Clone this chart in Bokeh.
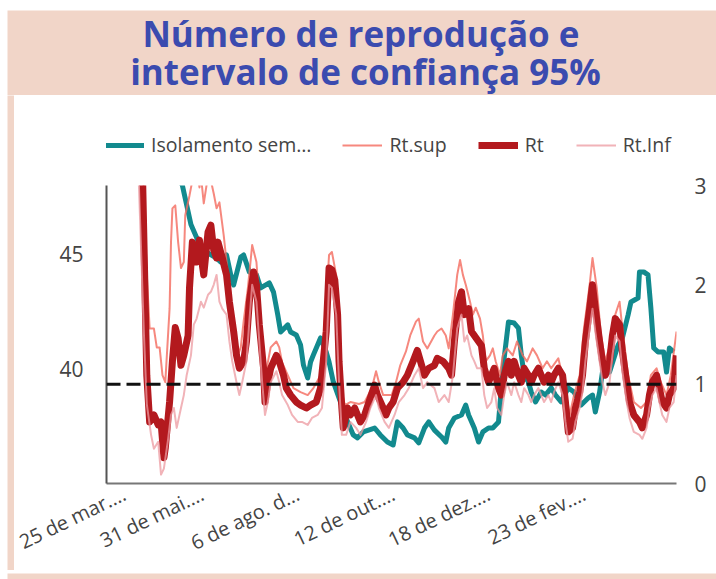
from bokeh.plotting import figure
from bokeh.models import Range1d, LinearAxis, FixedTicker, Span, Legend
from bokeh.layouts import column, row
from bokeh.embed import file_html
from bokeh.resources import INLINE
from bokeh.core.properties import value

# ---------------- data ----------------
TITULO_1 = "Número  de reprodução e"
TITULO_2 = "intervalo de confiança 95%"

# x axis: days since 25 Mar 2020
tick_dias = [0, 67, 134, 201, 268, 335]
tick_rotulos = ["25 de mar.…", "31 de mai.…", "6 de ago. d…", "12 de out.…", "18 de dez.…", "23 de fev.…"]
iso_ticks = [40, 45]
rt_ticks = [0, 1, 2, 3]
limiar_rt = 1

serie_nomes = ["Isolamento sem…", "Rt.sup", "Rt", "Rt.Inf"]

iso_dia = [0, 25, 45, 53, 59, 66, 71, 77, 80, 84, 87, 89, 94, 96, 100, 105, 108, 114, 117, 120,
           122, 127, 129, 133, 136, 138, 141, 143, 145, 150, 154, 156, 159, 164, 169, 173, 176, 180, 188, 192,
           197, 201, 204, 208, 211, 216, 219, 223, 226, 230, 235, 238, 240, 244, 249, 252, 254, 258, 261, 264,
           268, 271, 275, 277, 279, 282, 286, 289, 291, 293, 296, 298, 301, 305, 308, 312, 315, 319, 324, 328,
           333, 338, 341, 343, 346, 349, 353, 359, 362, 366, 368, 373, 374, 377, 380, 382, 384, 387, 391, 393,
           395, 398]
iso = [56.0, 52.0, 49.0, 48.0, 46.3, 45.3, 45.05, 44.83, 44.66, 44.97, 44.1, 43.66, 44.88, 44.97, 44.23, 44.1, 43.53, 43.75, 43.35, 42.35,
       41.61, 41.92, 41.61, 41.48, 41.04, 40.17, 39.6, 40.3, 40.61, 41.35, 40.74, 40.3, 39.43, 38.56, 37.69, 37.12, 36.99, 37.25, 37.42, 37.12,
       36.81, 36.68, 37.69, 37.42, 37.12, 36.99, 36.77, 37.42, 37.69, 37.33, 37.03, 36.81, 37.42, 37.86, 37.99, 38.42, 37.99, 37.42, 36.81, 37.25,
       37.42, 37.42, 37.68, 39.17, 40.48, 42.05, 42.0, 41.78, 40.61, 39.73, 39.43, 38.99, 38.56, 38.99, 38.86, 39.17, 38.86, 38.56, 39.17, 38.99,
       38.42, 38.73, 38.86, 38.12, 38.99, 40.3, 39.86, 41.04, 41.35, 42.35, 42.92, 43.09, 44.23, 44.23, 44.1, 42.66, 40.91, 40.74, 40.74, 39.86,
       40.91, 40.74]

rt_dia = [22, 25, 28, 30, 33, 36, 38, 40, 41, 44, 46, 48, 50, 52, 54, 57, 58, 60, 63, 65,
          66, 68, 71, 73, 75, 77, 78, 81, 84, 86, 89, 91, 93, 96, 98, 100, 103, 105, 107, 110,
          111, 113, 115, 119, 121, 124, 126, 129, 133, 136, 140, 143, 147, 150, 154, 156, 158, 160, 162, 163,
          165, 166, 169, 171, 174, 176, 178, 181, 184, 188, 190, 194, 196, 198, 201, 204, 208, 211, 215, 218,
          221, 223, 226, 230, 232, 236, 240, 242, 244, 247, 249, 251, 254, 256, 258, 261, 263, 265, 268, 270,
          272, 275, 277, 279, 282, 284, 286, 289, 291, 293, 296, 298, 300, 303, 305, 307, 310, 312, 314, 317,
          320, 322, 324, 327, 329, 332, 334, 336, 339, 341, 343, 346, 348, 350, 353, 355, 357, 360, 362, 365,
          367, 370, 374, 376, 379, 381, 383, 386, 388, 390, 393, 395, 398, 400]
rt = [3.6, 3.1, 1.09, 0.62, 0.69, 0.59, 0.62, 0.26, 0.36, 0.82, 1.23, 1.57, 1.46, 1.19, 1.29, 1.49, 1.97, 2.43, 2.23, 2.45,
      2.30, 2.10, 2.53, 2.60, 2.35, 2.27, 2.43, 2.27, 2.10, 1.83, 1.53, 1.29, 1.16, 1.23, 1.43, 1.83, 2.13, 2.00, 1.60, 1.16,
      0.82, 1.02, 1.16, 1.29, 1.23, 1.09, 0.96, 0.89, 0.82, 0.79, 0.76, 0.79, 0.82, 0.96, 1.53, 2.17, 2.15, 2.05, 1.70, 1.23,
      0.76, 0.56, 0.76, 0.69, 0.76, 0.69, 0.62, 0.69, 0.82, 0.99, 0.89, 0.76, 0.69, 0.76, 0.82, 0.96, 1.02, 1.09, 1.23, 1.34,
      1.19, 1.09, 1.16, 1.19, 1.26, 1.23, 1.16, 1.09, 1.43, 1.83, 1.93, 1.70, 1.76, 1.53, 1.49, 1.43, 1.39, 1.16, 1.02, 1.09,
      1.16, 0.96, 0.89, 1.09, 1.23, 1.09, 1.23, 1.09, 1.02, 1.16, 1.09, 1.02, 1.09, 1.16, 1.09, 1.02, 1.09, 1.02, 1.09, 1.16,
      1.09, 0.82, 0.52, 0.56, 0.76, 0.92, 1.09, 1.43, 1.76, 2.00, 1.76, 1.43, 1.23, 1.09, 1.23, 1.49, 1.66, 1.60, 1.33, 1.02,
      0.82, 0.69, 0.62, 0.56, 0.69, 0.89, 1.02, 1.09, 0.96, 0.82, 0.76, 0.89, 0.96, 1.29]

sup_dia = [21, 25, 28, 30, 33, 35, 37, 39, 41, 44, 45, 46, 48, 50, 52, 54, 55, 58, 60, 63,
           65, 66, 68, 71, 73, 75, 77, 79, 82, 85, 87, 89, 92, 94, 96, 99, 102, 105, 107, 109,
           111, 113, 115, 119, 121, 123, 127, 131, 136, 141, 145, 150, 154, 156, 158, 161, 163, 165, 167, 171,
           177, 181, 186, 189, 191, 194, 200, 203, 206, 210, 213, 217, 219, 222, 225, 230, 232, 235, 238, 240,
           243, 246, 248, 250, 252, 255, 257, 259, 262, 264, 266, 269, 271, 273, 276, 278, 281, 285, 288, 292,
           295, 299, 302, 306, 309, 312, 317, 321, 325, 328, 332, 335, 339, 341, 344, 347, 350, 354, 357, 360,
           362, 366, 370, 375, 379, 382, 386, 389, 393, 396, 400]
rt_sup = [4.4, 3.3, 2.1, 1.56, 1.56, 1.37, 1.37, 1.09, 1.02, 1.76, 2.43, 2.77, 2.80, 2.43, 2.17, 2.23, 2.70, 2.90, 3.05, 3.2,
          2.98, 3.1, 2.82, 3.1, 3.05, 2.92, 2.77, 2.83, 2.50, 2.10, 1.70, 1.43, 1.29, 1.37, 1.63, 1.97, 2.40, 2.23, 1.83, 1.43,
          1.02, 1.22, 1.37, 1.43, 1.37, 1.22, 1.09, 0.96, 0.92, 0.89, 0.96, 1.09, 1.83, 2.30, 2.33, 2.10, 1.43, 0.92, 0.79, 0.82,
          0.80, 0.82, 0.96, 1.13, 1.02, 0.89, 0.89, 1.02, 1.19, 1.33, 1.49, 1.63, 1.66, 1.43, 1.36, 1.49, 1.53, 1.56, 1.49, 1.36,
          1.70, 2.10, 2.25, 2.10, 2.0, 1.83, 1.70, 1.77, 1.66, 1.49, 1.23, 1.29, 1.36, 1.23, 1.09, 1.29, 1.36, 1.29, 1.43, 1.29,
          1.23, 1.36, 1.29, 1.16, 1.23, 1.16, 1.26, 1.02, 0.69, 0.89, 1.09, 1.56, 2.00, 2.27, 1.97, 1.49, 1.23, 1.43, 1.70, 1.83,
          1.56, 1.09, 0.82, 0.76, 0.82, 1.09, 1.16, 1.02, 0.89, 1.09, 1.53]

inf_dia = [22, 26, 28, 31, 33, 36, 38, 40, 43, 45, 47, 49, 52, 54, 56, 59, 61, 63, 66, 68,
           71, 73, 75, 77, 79, 81, 84, 86, 88, 91, 93, 95, 98, 100, 102, 105, 107, 109, 111, 113,
           115, 119, 121, 123, 127, 130, 134, 137, 141, 144, 148, 151, 154, 156, 158, 161, 163, 165, 168, 171,
           175, 178, 182, 185, 189, 191, 195, 198, 202, 205, 209, 212, 216, 219, 222, 225, 230, 233, 237, 240,
           243, 246, 249, 251, 253, 256, 258, 260, 263, 265, 267, 270, 272, 274, 277, 279, 281, 284, 286, 289,
           291, 293, 296, 298, 300, 303, 305, 307, 310, 312, 314, 317, 320, 322, 324, 327, 329, 332, 334, 336,
           339, 341, 343, 346, 348, 350, 353, 355, 357, 360, 362, 365, 367, 370, 374, 376, 379, 381, 383, 386,
           388, 390, 393, 395, 398, 400]
rt_inf = [3.2, 1.5, 0.8, 0.49, 0.35, 0.42, 0.09, 0.15, 0.45, 0.69, 0.76, 0.56, 0.76, 0.89, 1.09, 1.29, 1.60, 1.66, 1.83, 1.77,
          1.90, 1.93, 2.0, 2.10, 1.83, 1.76, 1.70, 1.43, 1.23, 1.02, 0.89, 1.02, 1.23, 1.63, 2.0, 1.83, 1.43, 1.02, 0.69, 0.82,
          1.02, 1.13, 1.02, 0.89, 0.79, 0.69, 0.62, 0.62, 0.59, 0.66, 0.69, 0.76, 1.23, 2.0, 1.97, 1.70, 1.02, 0.49, 0.49, 0.62,
          0.56, 0.49, 0.62, 0.76, 0.89, 0.76, 0.62, 0.56, 0.69, 0.82, 0.89, 0.96, 1.09, 1.16, 0.96, 1.02, 0.96, 0.82, 0.89, 0.82,
          1.09, 1.56, 1.70, 1.43, 1.49, 1.29, 1.23, 1.16, 1.16, 0.89, 0.76, 0.82, 0.96, 0.76, 0.69, 0.89, 1.02, 0.89, 1.02, 0.89,
          0.82, 0.96, 0.89, 0.82, 0.89, 0.96, 0.89, 0.82, 0.89, 0.82, 0.92, 1.02, 0.89, 0.62, 0.42, 0.45, 0.62, 0.76, 0.92, 1.23,
          1.56, 1.76, 1.53, 1.23, 1.02, 0.89, 1.02, 1.29, 1.49, 1.43, 1.13, 0.82, 0.66, 0.52, 0.49, 0.45, 0.56, 0.76, 0.89, 0.96,
          0.82, 0.69, 0.62, 0.76, 0.82, 1.09]

assert len(iso_dia) == len(iso)
assert len(rt_dia) == len(rt)
assert len(sup_dia) == len(rt_sup)
assert len(inf_dia) == len(rt_inf)

# ---------------- style ----------------
PEACH = "#F1D5C8"
TITLE_BLUE = "#3B4BAF"
TEAL = "#128A8E"
RT_RED = "#B3191E"
SUP_COL = "#F46A5E"
INF_COL = "#EC9AA0"
LABEL_COL = "#444444"
FONT = "Open Sans"

STYLE_ISO = dict(line_color=TEAL, line_width=5, line_join="round")
STYLE_SUP = dict(line_color=SUP_COL, line_width=2, line_alpha=0.8, line_join="round")
STYLE_RT = dict(line_color=RT_RED, line_width=7, line_join="round")
STYLE_INF = dict(line_color=INF_COL, line_width=2, line_alpha=0.75, line_join="round")


def block(w, h, color):
    f = figure(width=w, height=h, output_backend="svg", toolbar_location=None, title=None,
               min_border=0, x_axis_location=None, y_axis_location=None,
               border_fill_color=color, background_fill_color=color, outline_line_color=None)
    f.grid.visible = False
    return f


# ---------------- title band ----------------
pt = figure(width=709, height=85, x_range=Range1d(0, 709), y_range=Range1d(0, 85),
            output_backend="svg", toolbar_location=None, title=None, min_border=0,
            x_axis_location=None, y_axis_location=None,
            border_fill_color=PEACH, background_fill_color=PEACH, outline_line_color=None)
pt.grid.visible = False
pt.text(x=[358, 358], y=[62, 24], text=[TITULO_1, TITULO_2],
        text_align="center", text_baseline="middle",
        text_font=value(FONT), text_font_style="bold", text_font_size="35px",
        text_color=TITLE_BLUE)

# ---------------- legend strip (series drawn outside its visible x range) ----------------
lf = block(702, 78, "white")
lf.x_range = Range1d(-20, -10)
lf.y_range = Range1d(0, 1)
lf.extra_y_ranges = {"rt": Range1d(0, 3), "iso": Range1d(35, 48)}
l_iso = lf.line(iso_dia, iso, y_range_name="iso", **STYLE_ISO)
l_sup = lf.line(sup_dia, rt_sup, y_range_name="rt", **STYLE_SUP)
l_rt = lf.line(rt_dia, rt, y_range_name="rt", **STYLE_RT)
l_inf = lf.line(inf_dia, rt_inf, y_range_name="rt", **STYLE_INF)
legend = Legend(items=[(serie_nomes[0], [l_iso]), (serie_nomes[1], [l_sup]),
                       (serie_nomes[2], [l_rt]), (serie_nomes[3], [l_inf])],
                orientation="horizontal", location=(-2, 15),
                border_line_color=None, background_fill_alpha=0,
                padding=0, margin=0, spacing=31, label_standoff=7,
                glyph_width=40, glyph_height=20, label_height=20,
                label_text_font=FONT, label_text_font_size="19.5px",
                label_text_color=LABEL_COL)
lf.add_layout(legend, "center")

# ---------------- main chart ----------------
p = figure(width=702, height=397, x_range=Range1d(-0.3, 400), y_range=Range1d(35, 48),
           output_backend="svg", toolbar_location=None, title=None,
           min_border_left=92, min_border_right=40, min_border_top=12, min_border_bottom=86,
           background_fill_color="white", border_fill_color="white", outline_line_color=None)
p.extra_y_ranges = {"rt": Range1d(0, 3)}
p.grid.visible = False

p.line(iso_dia, iso, **STYLE_ISO)
p.line(sup_dia, rt_sup, y_range_name="rt", **STYLE_SUP)
p.line(rt_dia, rt, y_range_name="rt", **STYLE_RT)
p.line(inf_dia, rt_inf, y_range_name="rt", **STYLE_INF)

p.add_layout(Span(location=limiar_rt, dimension="width", y_range_name="rt",
                  line_color="#111111", line_width=3, line_dash="14 6"))

# bottom axis
xa = p.xaxis[0]
xa.ticker = FixedTicker(ticks=tick_dias)
xa.major_label_overrides = {d: t for d, t in zip(tick_dias, tick_rotulos)}
xa.major_label_orientation = 0.45
xa.major_tick_line_color = None
xa.minor_tick_line_color = None
xa.major_tick_out = 0
xa.major_tick_in = 0
xa.axis_line_color = "#777777"
xa.axis_line_width = 2
xa.major_label_standoff = 9
xa.major_label_text_font = FONT
xa.major_label_text_font_size = "20px"
xa.major_label_text_color = LABEL_COL

# left axis
ya = p.yaxis[0]
ya.ticker = FixedTicker(ticks=iso_ticks)
ya.major_tick_line_color = None
ya.minor_tick_line_color = None
ya.major_tick_out = 0
ya.major_tick_in = 0
ya.axis_line_color = "#555555"
ya.axis_line_width = 2
ya.major_label_standoff = 23
ya.major_label_text_font = FONT
ya.major_label_text_font_size = "21px"
ya.major_label_text_color = LABEL_COL

# right axis
yr = LinearAxis(y_range_name="rt", ticker=FixedTicker(ticks=rt_ticks))
yr.major_tick_line_color = None
yr.minor_tick_line_color = None
yr.major_tick_out = 0
yr.major_tick_in = 0
yr.axis_line_color = None
yr.major_label_standoff = 18
yr.major_label_text_font = FONT
yr.major_label_text_font_size = "21px"
yr.major_label_text_color = LABEL_COL
p.add_layout(yr, "right")

inner = column(
    pt,
    row(block(7, 475, PEACH), column(lf, p)),
    block(709, 9, PEACH),
)
layout = column(block(716, 10, "white"), row(block(7, 569, "white"), inner))

open("out.html", "w").write(file_html(layout, INLINE))
